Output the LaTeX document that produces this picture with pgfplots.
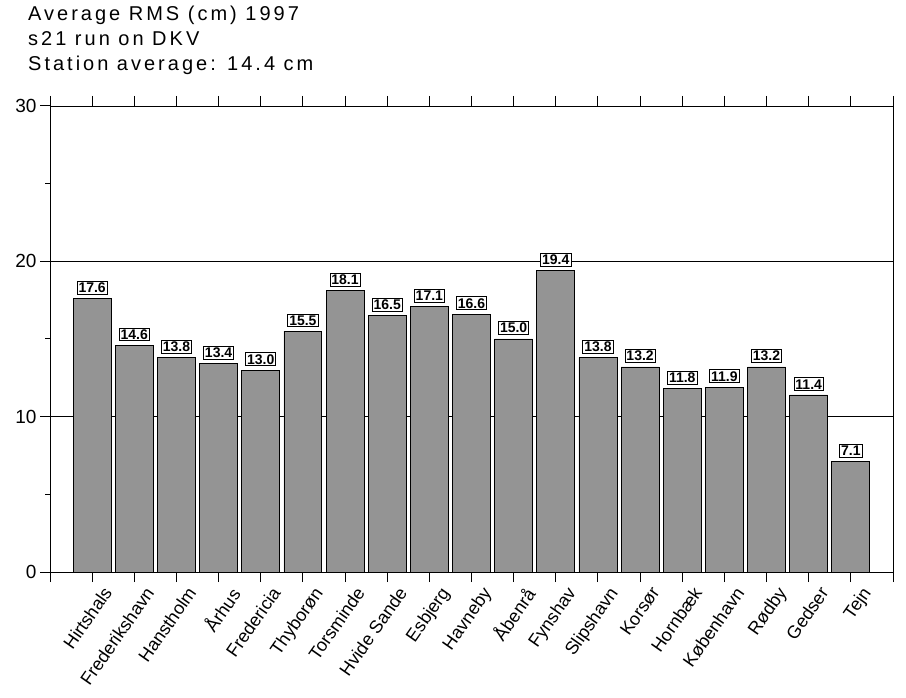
\documentclass[border=0pt]{standalone}
\usepackage{pgfplots}
\pgfplotsset{compat=1.18}
\usepackage{fontspec}
\setmainfont{Liberation Sans}
\begin{document}
\begin{tikzpicture}
\path (0pt,0pt) rectangle (906pt,697pt);
\node[anchor=north west,align=left,font=\fontsize{20}{25}\selectfont,inner sep=0pt] at (28pt,691pt) {\addfontfeature{LetterSpace=15}Average RMS (cm) 1997\\ \addfontfeature{LetterSpace=15}s21 run on DKV\\ \addfontfeature{LetterSpace=15}Station average: 14.4 cm};
\begin{axis}[at={(50pt,125pt)},anchor=south west,scale only axis,width=843pt,height=466pt,
 xmin=-1,xmax=19,ymin=0,ymax=30,
 xtick={-1,...,19},
 xticklabels={,Hirtshals,Frederikshavn,Hanstholm,Århus,Fredericia,Thyborøn,Torsminde,Hvide Sande,Esbjerg,Havneby,Åbenrå,Fynshav,Slipshavn,Korsør,Hornbæk,København,Rødby,Gedser,Tejn,},
 xticklabel style={rotate=55,anchor=north east,font=\fontsize{18}{18}\selectfont,inner sep=2pt,yshift=-8pt,xshift=5pt},
 ytick={0,10,20,30},minor ytick={5,15,25},
 ytick pos=left,xtick pos=both,tick align=outside,
 major tick length=10pt,minor tick length=5pt,
 tick style={black,line width=1pt},
 ymajorgrids,grid style={black,line width=0.5pt},
 axis line style={black,line width=0.8pt},
 x axis line style={line width=1.5pt},
 yticklabel style={font=\fontsize{19}{19}\selectfont},
 /pgf/number format/assume math mode=true,
 ybar,bar width=0.9,
 nodes near coords,
 nodes near coords style={font=\bfseries\fontsize{14}{14}\selectfont,draw=black,fill=white,inner sep=1.5pt,line width=0.8pt,yshift=4pt,/pgf/number format/.cd,fixed,fixed zerofill,precision=1},
]
\addplot[fill=black!42,draw=black,line width=0.8pt] coordinates {
(0,17.6)(1,14.6)(2,13.8)(3,13.4)(4,13.0)(5,15.5)(6,18.1)(7,16.5)(8,17.1)(9,16.6)
(10,15.0)(11,19.4)(12,13.8)(13,13.2)(14,11.8)(15,11.9)(16,13.2)(17,11.4)(18,7.1)};
\end{axis}
\end{tikzpicture}
\end{document}
